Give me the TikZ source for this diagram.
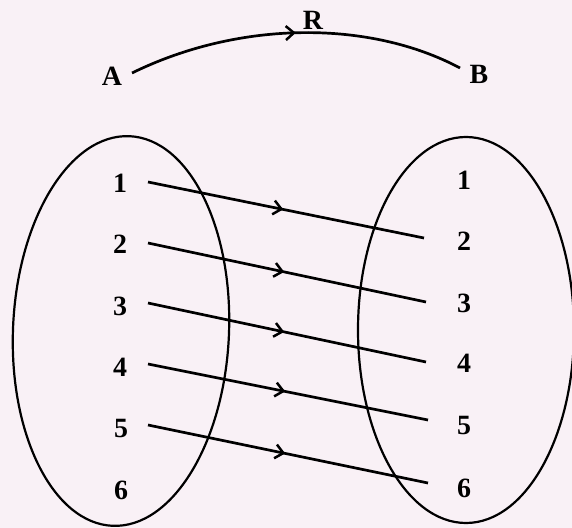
\documentclass[tikz,border=0pt]{standalone}
\usepackage{fontspec}
\setmainfont{Liberation Serif}
\usetikzlibrary{arrows.meta,decorations.markings}
\definecolor{paper}{RGB}{249,241,246}
\tikzset{
  lbl/.style={font=\fontsize{28}{28}\selectfont\bfseries, inner sep=0pt},
  setring/.style={line width=2.2bp},
  midarrow/.style={line width=2.7bp, postaction={decorate},
    decoration={markings, mark=at position #1 with {\arrow{Straight Barb[length=8bp,width=14bp,line width=2.5bp]}}}},
}
\begin{document}
\begin{tikzpicture}[x=1bp,y=-1bp]
\fill[paper] (0,0) rectangle (572,528);
\useasboundingbox (0,0) rectangle (572,528);
% top relation
\node[lbl] (A) at (112,76) {A};
\node[lbl] (B) at (479,74) {B};
\node[lbl] (R) at (313,20) {R};
\coordinate (a0) at (132,73);
\coordinate (b0) at (460,68);
\draw[midarrow=0.5] (a0) .. controls (240,20) and (370,20) .. (b0);
% sets
\draw[setring, rotate around={-2.5:(121,331)}] (121,331) ellipse [x radius=108, y radius=195];
\draw[setring] (466,330) ellipse [x radius=108, y radius=193];
% left labels
\node[lbl] (l1) at (120,183) {1};
\node[lbl] (l2) at (120,244) {2};
\node[lbl] (l3) at (120,306) {3};
\node[lbl] (l4) at (120,367) {4};
\node[lbl] (l5) at (121,428) {5};
\node[lbl] (l6) at (121,490) {6};
% right labels
\node[lbl] (r1) at (464,180) {1};
\node[lbl] (r2) at (464,241) {2};
\node[lbl] (r3) at (464,303) {3};
\node[lbl] (r4) at (464,363) {4};
\node[lbl] (r5) at (464,425) {5};
\node[lbl] (r6) at (464,488) {6};
% line ends
\coordinate (s1) at (148,182); \coordinate (e2) at (424,238);
\coordinate (s2) at (148,243); \coordinate (e3) at (426,302);
\coordinate (s3) at (148,303); \coordinate (e4) at (426,362);
\coordinate (s4) at (148,364); \coordinate (e5) at (428,420);
\coordinate (s5) at (148,425); \coordinate (e6) at (428,483);
\foreach \i/\j in {1/2,2/3,3/4,4/5,5/6}{
  \draw[midarrow=0.49] (s\i) -- (e\j);
}
\end{tikzpicture}
\end{document}
